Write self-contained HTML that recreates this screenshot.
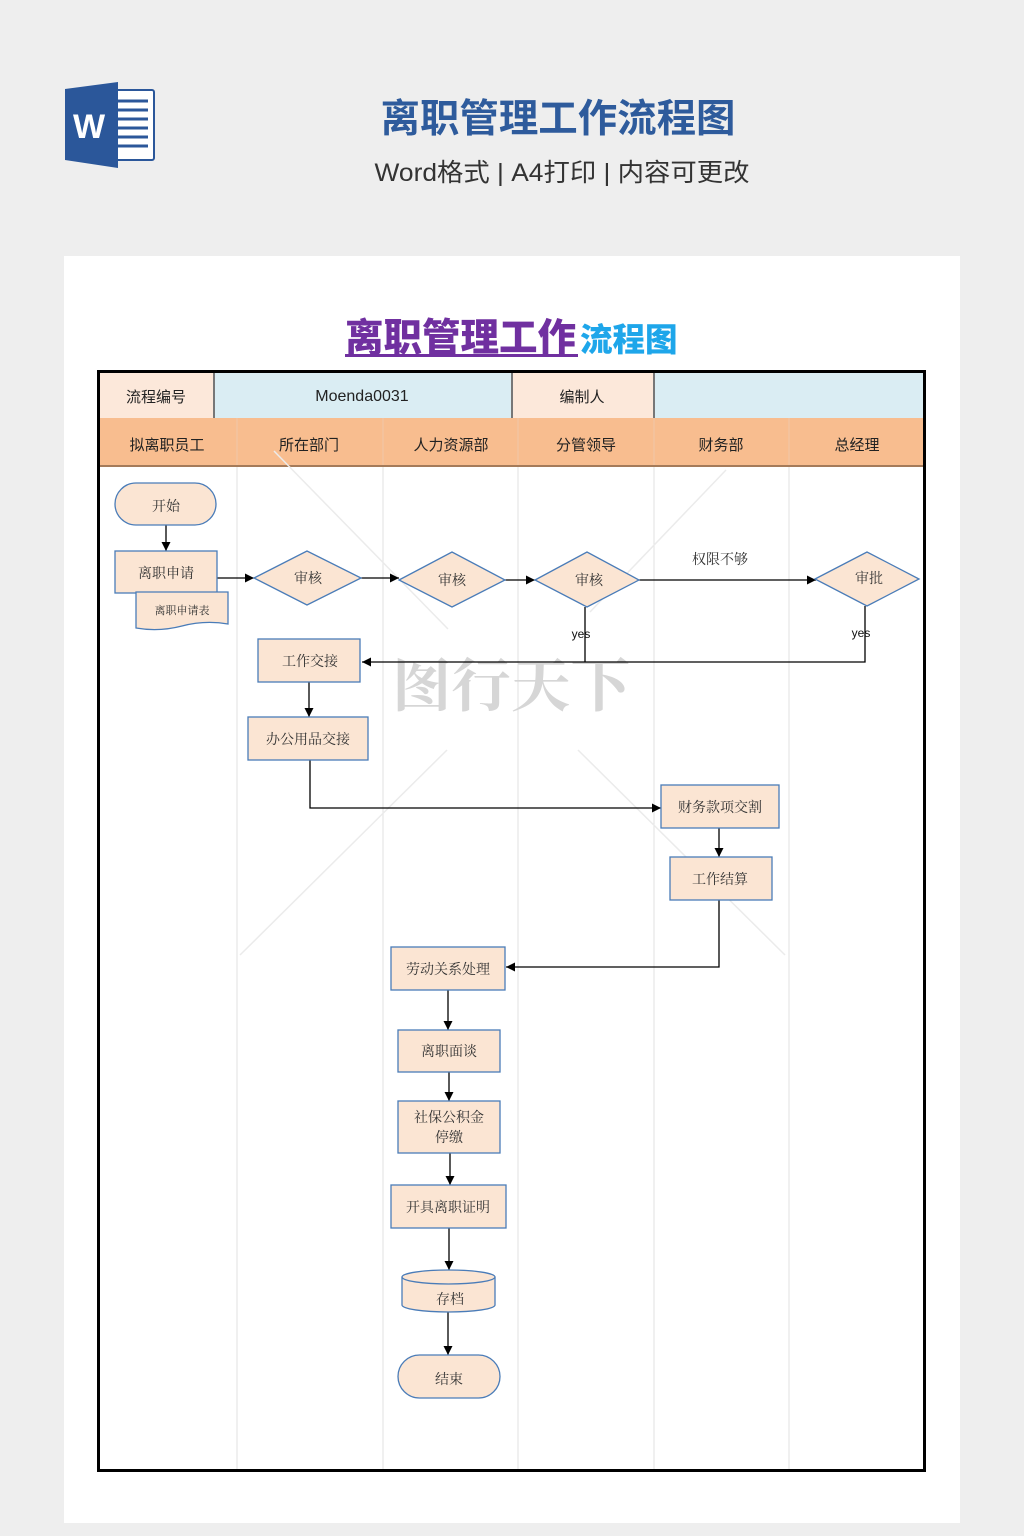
<!DOCTYPE html>
<html><head><meta charset="utf-8"><style>
html,body{margin:0;padding:0;background:#eeeeee;}
svg{display:block;}
</style></head><body>
<svg width="1024" height="1536" viewBox="0 0 1024 1536" xmlns="http://www.w3.org/2000/svg">
<defs>
<marker id="ah" markerWidth="9" markerHeight="9" refX="9" refY="4.5" orient="auto" markerUnits="userSpaceOnUse">
<path d="M0,0 L9,4.5 L0,9 z" fill="#000"/>
</marker>
</defs>
<rect x="0" y="0" width="1024" height="1536" fill="#eeeeee"/>
<!-- Word icon -->
<rect x="116" y="90" width="38" height="70" fill="#fff" stroke="#2b579a" stroke-width="2" rx="2"/>
<g stroke="#2b579a" stroke-width="3">
<line x1="118" y1="101" x2="148" y2="101"/><line x1="118" y1="110" x2="148" y2="110"/>
<line x1="118" y1="119" x2="148" y2="119"/><line x1="118" y1="128" x2="148" y2="128"/>
<line x1="118" y1="137" x2="148" y2="137"/><line x1="118" y1="146" x2="148" y2="146"/>
</g>
<path d="M65,89 L118,82 L118,168 L65,160 Z" fill="#2b579a"/>
<text x="89" y="138" font-family="Liberation Sans, sans-serif" font-weight="bold" font-size="34" fill="#fff" text-anchor="middle">W</text>
<!-- top titles -->
<text x="558" y="132" font-family="Liberation Sans, 'Noto Sans CJK SC', sans-serif" font-weight="bold" font-size="39" fill="#2e5b9c" text-anchor="middle" textLength="355" lengthAdjust="spacingAndGlyphs">离职管理工作流程图</text>
<text x="562" y="181" font-family="Liberation Sans, 'Noto Sans CJK SC', sans-serif" font-size="25" fill="#333" text-anchor="middle" textLength="375" lengthAdjust="spacingAndGlyphs">Word格式 | A4打印 | 内容可更改</text>
<!-- card -->
<rect x="64" y="256" width="896" height="1267" fill="#fff"/>
<!-- inner title -->
<text x="345" y="351" font-family="'Noto Sans CJK SC', sans-serif" font-weight="900" font-size="38.5" fill="#7030a0">离职管理工作</text>
<text x="580" y="351" font-family="'Noto Sans CJK SC', sans-serif" font-weight="900" font-size="32.5" fill="#1ea6ea">流程图</text>
<rect x="345" y="354" width="233" height="3" fill="#7030a0"/>
<!-- table row 1 -->
<rect x="99" y="372" width="115" height="46" fill="#fce8da"/>
<rect x="214" y="372" width="298" height="46" fill="#daedf3"/>
<rect x="512" y="372" width="142" height="46" fill="#fce8da"/>
<rect x="654" y="372" width="270" height="46" fill="#daedf3"/>
<g stroke="#777" stroke-width="2">
<line x1="214" y1="372" x2="214" y2="418"/><line x1="512" y1="372" x2="512" y2="418"/><line x1="654" y1="372" x2="654" y2="418"/>
</g>
<!-- row 2 -->
<rect x="99" y="418" width="825" height="48" fill="#f8bd8f"/>
<line x1="99" y1="466" x2="924" y2="466" stroke="#a57b5a" stroke-width="2"/>
<g stroke="#f0c8a8" stroke-width="1">
<line x1="237" y1="418" x2="237" y2="465"/><line x1="383" y1="418" x2="383" y2="465"/>
<line x1="518" y1="418" x2="518" y2="465"/><line x1="654" y1="418" x2="654" y2="465"/>
<line x1="789" y1="418" x2="789" y2="465"/>
</g>
<g font-family="'Noto Sans CJK SC', sans-serif" font-size="15" fill="#222" text-anchor="middle">
<text x="156" y="402">流程编号</text>
<text x="362" y="401" font-family="Liberation Sans, sans-serif" font-size="16">Moenda0031</text>
<text x="582" y="402">编制人</text>
<text x="167" y="450">拟离职员工</text>
<text x="309" y="450">所在部门</text>
<text x="451" y="450">人力资源部</text>
<text x="586" y="450">分管领导</text>
<text x="721" y="450">财务部</text>
<text x="857" y="450">总经理</text>
</g>
<!-- lane lines -->
<g stroke="#e2e2e2" stroke-width="1">
<line x1="237" y1="467" x2="237" y2="1469"/><line x1="383" y1="467" x2="383" y2="1469"/>
<line x1="518" y1="467" x2="518" y2="1469"/><line x1="654" y1="467" x2="654" y2="1469"/>
<line x1="789" y1="467" x2="789" y2="1469"/>
</g>
<!-- faint watermark diagonals -->
<g stroke="#ebebeb" stroke-width="1.5">
<line x1="274" y1="451" x2="448" y2="629"/>
<line x1="726" y1="470" x2="590" y2="612"/>
<line x1="447" y1="750" x2="240" y2="955"/>
<line x1="578" y1="750" x2="785" y2="955"/>
</g>
<!-- watermark text -->
<text x="392" y="706" font-family="'Noto Serif CJK SC', serif" font-weight="bold" font-size="58" fill="#d6d6d6" textLength="238" lengthAdjust="spacingAndGlyphs">图行天下</text>
<!-- outer border -->
<rect x="98.5" y="371.5" width="826" height="1099" fill="none" stroke="#000" stroke-width="3"/>
<!-- connectors -->
<g stroke="#000" stroke-width="1.3" fill="none">
<line x1="166" y1="525" x2="166" y2="551" marker-end="url(#ah)"/>
<line x1="217" y1="578" x2="254" y2="578" marker-end="url(#ah)"/>
<line x1="361" y1="578" x2="399" y2="578" marker-end="url(#ah)"/>
<line x1="505" y1="580" x2="535" y2="580" marker-end="url(#ah)"/>
<line x1="639" y1="580" x2="816" y2="580" marker-end="url(#ah)"/>
<line x1="585" y1="607" x2="585" y2="662"/>
<polyline points="865,606 865,662 362,662" marker-end="url(#ah)"/>
<line x1="309" y1="682" x2="309" y2="717" marker-end="url(#ah)"/>
<polyline points="310,760 310,808 661,808" marker-end="url(#ah)"/>
<line x1="719" y1="828" x2="719" y2="857" marker-end="url(#ah)"/>
<polyline points="719,900 719,967 506,967" marker-end="url(#ah)"/>
<line x1="448" y1="990" x2="448" y2="1030" marker-end="url(#ah)"/>
<line x1="449" y1="1072" x2="449" y2="1101" marker-end="url(#ah)"/>
<line x1="450" y1="1153" x2="450" y2="1185" marker-end="url(#ah)"/>
<line x1="449" y1="1228" x2="449" y2="1270" marker-end="url(#ah)"/>
<line x1="448" y1="1312" x2="448" y2="1355" marker-end="url(#ah)"/>
</g>
<!-- shapes -->
<g fill="#fbe5d3" stroke="#4a7cb8" stroke-width="1.3">
<rect x="115" y="483" width="101" height="42" rx="21"/>
<rect x="115" y="551" width="102" height="42"/>
<path d="M136,592 H228 V624 Q205,620 182,626 Q159,632 136,628 Z"/>
<polygon points="254,578 307,551 361,578 307,605"/>
<polygon points="399,580 452,552 505,580 452,607"/>
<polygon points="535,580 587,552 639,580 587,607"/>
<polygon points="815,579 867,552 919,579 867,606"/>
<rect x="258" y="639" width="102" height="43"/>
<rect x="248" y="717" width="120" height="43"/>
<rect x="661" y="785" width="118" height="43"/>
<rect x="670" y="857" width="102" height="43"/>
<rect x="391" y="947" width="114" height="43"/>
<rect x="398" y="1030" width="102" height="42"/>
<rect x="398" y="1101" width="102" height="52"/>
<rect x="391" y="1185" width="115" height="43"/>
<path d="M402,1277 A46.5,7 0 0 1 495,1277 V1305 A46.5,7 0 0 1 402,1305 Z"/>
<path d="M402,1277 A46.5,7 0 0 0 495,1277" fill="none"/>
<rect x="398" y="1355" width="102" height="43" rx="21.5"/>
</g>
<!-- shape labels -->
<g font-family="'Noto Serif CJK SC', serif" font-size="14" fill="#333" text-anchor="middle">
<text x="166" y="511">开始</text>
<text x="166" y="578">离职申请</text>
<text x="182" y="614" font-size="11">离职申请表</text>
<text x="308" y="583">审核</text>
<text x="452" y="585">审核</text>
<text x="589" y="585">审核</text>
<text x="869" y="583">审批</text>
<text x="720" y="564">权限不够</text>
<text x="310" y="666">工作交接</text>
<text x="308" y="744">办公用品交接</text>
<text x="720" y="812">财务款项交割</text>
<text x="720" y="884">工作结算</text>
<text x="448" y="974">劳动关系处理</text>
<text x="449" y="1056">离职面谈</text>
<text x="449" y="1122">社保公积金</text>
<text x="449" y="1142">停缴</text>
<text x="448" y="1212">开具离职证明</text>
<text x="450" y="1304">存档</text>
<text x="449" y="1384">结束</text>
</g>
<g font-family="Liberation Sans, sans-serif" font-size="12" fill="#111" text-anchor="middle">
<text x="581" y="638">yes</text>
<text x="861" y="637">yes</text>
</g>
</svg>
</body></html>
